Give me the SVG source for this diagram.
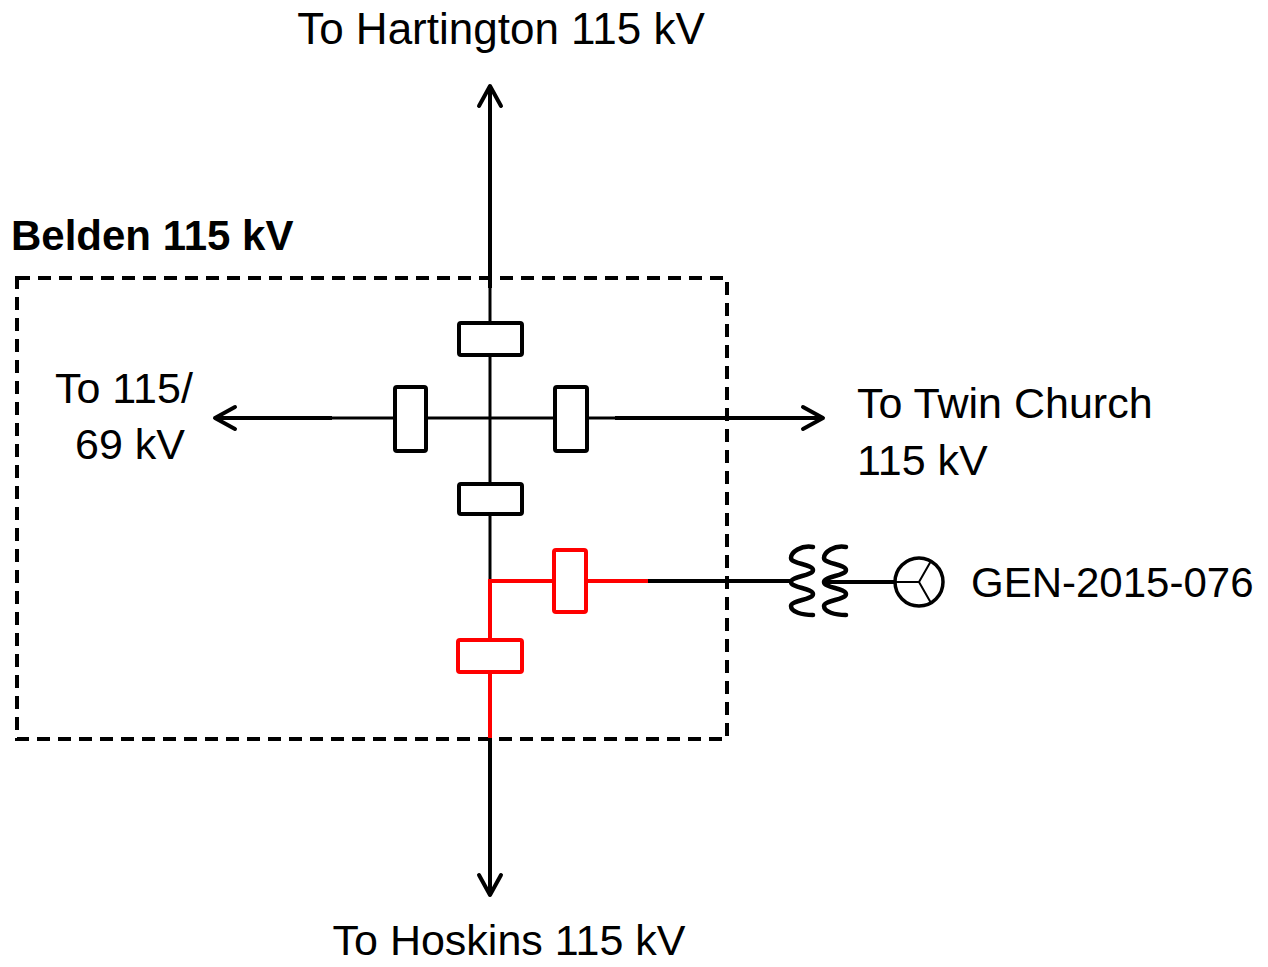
<svg xmlns="http://www.w3.org/2000/svg" width="1268" height="967" viewBox="0 0 1268 967">
<style>
.t{font-family:"Liberation Sans",Arial,sans-serif;font-size:43px;fill:#000}
.b{font-family:"Liberation Sans",Arial,sans-serif;font-size:42px;font-weight:bold;fill:#000}
.brk{fill:#fff;stroke:#000;stroke-width:4}
.rbrk{fill:#fff;stroke:#f00;stroke-width:4}
.w{fill:none;stroke:#000;stroke-width:4;stroke-linecap:butt}
.n{fill:none;stroke:#000;stroke-width:3}
.r{fill:none;stroke:#f00;stroke-width:4}
.ah{fill:none;stroke:#000;stroke-width:4;stroke-linecap:round;stroke-linejoin:round}
.coil{fill:none;stroke:#000;stroke-width:4.5;stroke-linecap:round}
</style>
<defs>
<marker id="arr" markerUnits="userSpaceOnUse" markerWidth="30" markerHeight="30" viewBox="-25 -15 30 30" refX="0" refY="0" orient="auto" overflow="visible">
<path d="M-20,-11 L0,0 L-20,11" class="ah"/>
</marker>
<path id="coilshape" class="coil" d="M813,547 C801,545 791,552 791,558 C791,564 813,564 813,570 C813,576 791,576 791,582 C791,588 813,588 813,594 C813,600 791,600 791,606 C791,612 802,615 813,615"/>
</defs>
<rect id="belden-box" x="17" y="278" width="710" height="461" fill="none" stroke="#000" stroke-width="4" stroke-dasharray="13 8"/>
<g id="connectors">
<line class="w" x1="490" y1="288" x2="490" y2="86" marker-end="url(#arr)"/>
<line class="n" x1="490" y1="286" x2="490" y2="323"/>
<line class="n" x1="490" y1="355" x2="490" y2="484"/>
<line class="n" x1="490" y1="514" x2="490" y2="583"/>
<line class="n" x1="330" y1="418" x2="395" y2="418"/>
<line class="w" x1="332" y1="418" x2="215" y2="418" marker-end="url(#arr)"/>
<line class="n" x1="426" y1="418" x2="555" y2="418"/>
<line class="n" x1="587" y1="418" x2="617" y2="418"/>
<line class="w" x1="615" y1="418" x2="823" y2="418" marker-end="url(#arr)"/>
<path class="r" d="M490,742 V581 H554"/>
<line class="r" x1="586" y1="581" x2="650" y2="581"/>
<line class="w" x1="648" y1="581" x2="792" y2="581"/>
<line class="w" x1="490" y1="738" x2="490" y2="895" marker-end="url(#arr)"/>
<line class="w" x1="824" y1="582" x2="896" y2="582"/>
</g>
<g id="breaker-top"><rect class="brk" x="459" y="323" width="63" height="32" rx="2"/></g>
<g id="breaker-left"><rect class="brk" x="395" y="387" width="31" height="64" rx="2"/></g>
<g id="breaker-right"><rect class="brk" x="555" y="387" width="32" height="64" rx="2"/></g>
<g id="breaker-bottom"><rect class="brk" x="459" y="484" width="63" height="30" rx="2"/></g>
<g id="breaker-red-gen"><rect class="rbrk" x="554" y="550" width="32" height="62" rx="2"/></g>
<g id="breaker-red-bottom"><rect class="rbrk" x="458" y="640" width="64" height="32" rx="2"/></g>
<g id="transformer">
<use href="#coilshape"/>
<use href="#coilshape" transform="translate(33,0)"/>
</g>
<g id="generator">
<circle cx="919" cy="582" r="24" fill="#fff" stroke="#000" stroke-width="3.5"/>
<path d="M895,582 H919 L931,561 M919,582 L931,603" fill="none" stroke="#000" stroke-width="2"/>
</g>
<g id="labels">
<text class="t" x="501" y="44" text-anchor="middle" style="font-size:44px">To Hartington 115 kV</text>
<text class="b" x="11" y="250">Belden 115 kV</text>
<text class="t" x="55" y="403">To 115/</text>
<text class="t" x="75" y="459">69 kV</text>
<text class="t" x="857" y="418">To Twin Church</text>
<text class="t" x="857" y="475">115 kV</text>
<text class="t" x="971" y="597" style="font-size:42px">GEN-2015-076</text>
<text class="t" x="509" y="955" text-anchor="middle">To Hoskins 115 kV</text>
</g>
</svg>
